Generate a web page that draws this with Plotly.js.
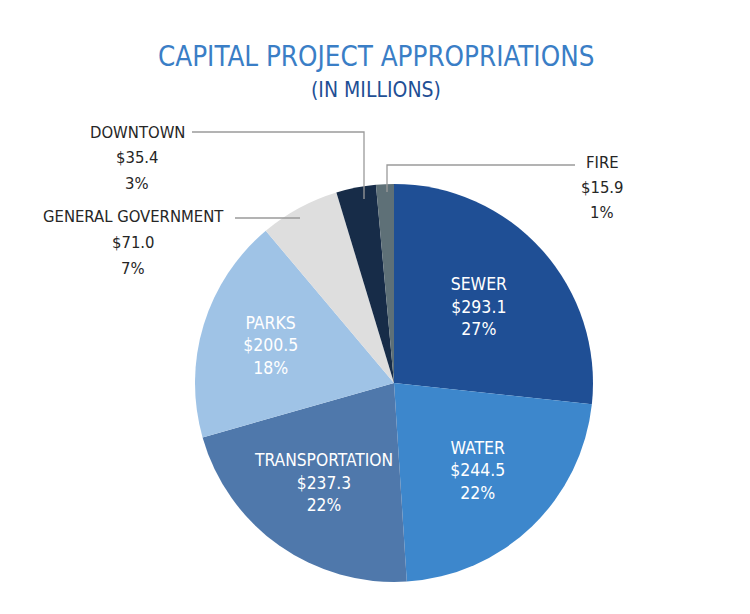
<!DOCTYPE html>
<html>
<head>
<meta charset="utf-8">
<script src="https://cdn.plot.ly/plotly-3.0.1.min.js"></script>
<style>html,body{margin:0;padding:0;background:#fff;}#chart{width:750px;height:614px;}</style>
</head>
<body>
<div id="chart"></div>
<script>
// Data
const categories = ["SEWER", "WATER", "TRANSPORTATION", "PARKS", "GENERAL GOVERNMENT", "DOWNTOWN", "FIRE"];
const amounts = [293.1, 244.5, 237.3, 200.5, 71.0, 35.4, 15.9];
const percentLabels = ["27%", "22%", "22%", "18%", "7%", "3%", "1%"];
const sliceColors = ["#1f4f95", "#3d87cc", "#4f78ab", "#9fc3e6", "#dedede", "#172c48", "#5e7077"];
const insideSlices = [true, true, true, true, false, false, false];

const FONT = "'DejaVu Sans Condensed', 'Liberation Sans Narrow', 'Arial Narrow', sans-serif";

const labelLines = categories.map((c, i) => [c, "$" + amounts[i].toFixed(1), percentLabels[i]]);
const labelText = labelLines.map(l => l.join("<br>"));

const trace = {
  type: "pie",
  labels: categories,
  values: amounts,
  sort: false,
  direction: "clockwise",
  rotation: 0,
  marker: { colors: sliceColors, line: { width: 0 } },
  texttemplate: labelText.map((t, i) => insideSlices[i] ? t : ""),
  textposition: "inside",
  insidetextorientation: "horizontal",
  insidetextfont: { family: FONT, size: 17.5, color: "#ffffff" },
  hoverinfo: "label+value+percent",
  domain: { x: [195 / 750, 593 / 750], y: [1 - 582 / 614, 1 - 184 / 614] },
  showlegend: false
};

// helpers for paper coordinates from pixel layout positions
const px = x => x / 750;
const py = y => 1 - y / 614;

const outsideIdx = [5, 4, 6];
const outsidePos = { 5: [137, 132], 4: [133, 217], 6: [602, 162] }; // centre x, first-line y
const LINE_GAP = 25.5;
const annotations = [
  { text: "CAPITAL PROJECT APPROPRIATIONS", x: px(376), y: py(56), xref: "paper", yref: "paper",
    xanchor: "center", yanchor: "middle",
    showarrow: false, font: { family: FONT, size: 27.5, color: "#3a7ec6" } },
  { text: "(IN MILLIONS)", x: px(376), y: py(90), xref: "paper", yref: "paper",
    xanchor: "center", yanchor: "middle",
    showarrow: false, font: { family: FONT, size: 21, color: "#1f4f95" } }
];
outsideIdx.forEach(i => {
  labelLines[i].forEach((line, k) => {
    annotations.push({
      text: line, x: px(outsidePos[i][0]), y: py(outsidePos[i][1] + k * LINE_GAP), xref: "paper", yref: "paper",
      xanchor: "center", yanchor: "middle",
      showarrow: false, font: { family: FONT, size: 16.5, color: "#262626" }
    });
  });
});

const lineStyle = { color: "#9a9a9a", width: 1.3 };
const shapes = [
  { type: "path", xref: "paper", yref: "paper", line: lineStyle,
    path: `M ${px(192)} ${py(132)} L ${px(364)} ${py(132)} L ${px(364)} ${py(199)}` },
  { type: "path", xref: "paper", yref: "paper", line: lineStyle,
    path: `M ${px(235)} ${py(218)} L ${px(300)} ${py(218)}` },
  { type: "path", xref: "paper", yref: "paper", line: lineStyle,
    path: `M ${px(575)} ${py(165)} L ${px(387)} ${py(165)} L ${px(387)} ${py(192)}` }
];

const layout = {
  width: 750, height: 614,
  margin: { l: 0, r: 0, t: 0, b: 0 },
  paper_bgcolor: "#ffffff",
  annotations: annotations,
  shapes: shapes,
  showlegend: false
};

Plotly.newPlot("chart", [trace], layout, { displayModeBar: false, staticPlot: true });
</script>
</body>
</html>
